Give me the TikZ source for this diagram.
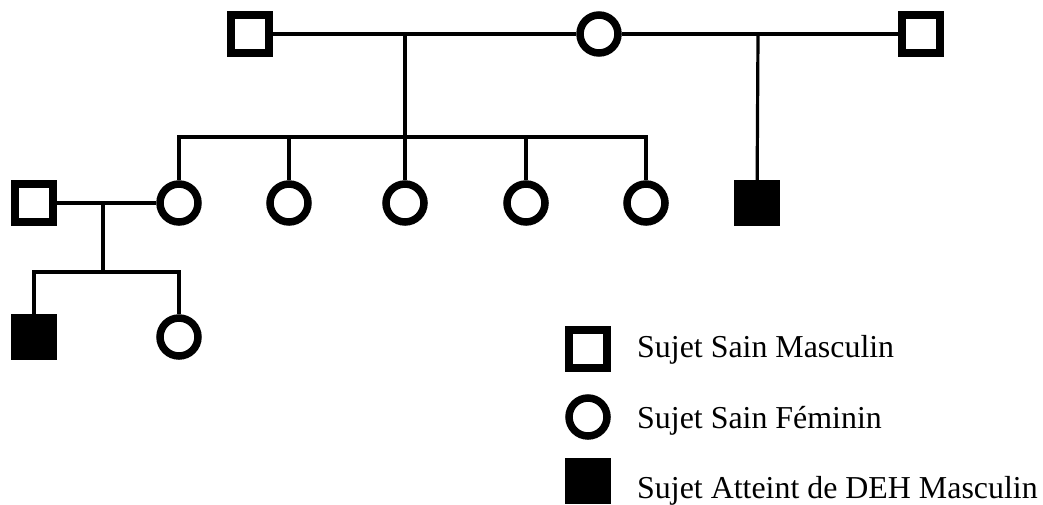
\documentclass[tikz,border=0pt]{standalone}
\usepackage{fontspec}
\setmainfont{Liberation Serif}
\begin{document}
\begin{tikzpicture}[x=1pt,y=-1pt,
  male/.style={draw,rectangle,line width=7.5pt,minimum size=38pt,inner sep=0pt,fill=white},
  female/.style={draw,circle,line width=7.5pt,minimum size=38pt,inner sep=0pt,fill=white},
  affected/.style={draw,rectangle,line width=7.5pt,minimum size=38pt,inner sep=0pt,fill=black},
  link/.style={line width=3.2pt},
  lab/.style={anchor=base west,inner sep=0pt,font=\fontsize{31.9}{36}\selectfont}]
\useasboundingbox (0,0) rectangle (1043,504);
% generation I
\node[male] (g1m) at (250,34) {};
\node[female] (g1f) at (599,34) {};
\node[male] (g1m2) at (921,34) {};
% generation II
\node[female] (d1) at (179,203) {};
\node[female] (d2) at (289,203) {};
\node[female] (d3) at (405,203) {};
\node[female] (d4) at (526,203) {};
\node[female] (d5) at (646,203) {};
\node[affected] (a1) at (757,203) {};
\node[male] (h1) at (34,203) {};
% generation III
\node[affected] (a2) at (34,337) {};
\node[female] (f3) at (179,337) {};
% coordinates
\coordinate (m1) at (405,35);
\coordinate (s1) at (405,137);
\coordinate (m2) at (758,35);
\coordinate (m3) at (103,203);
\coordinate (s3) at (103,272);
% connectors
\draw[link] (g1m) -- (g1f);
\draw[link] (g1f) -- (g1m2);
\draw[link] (m1) -- (s1);
\draw[link] (d1.north) |- (s1) -| (d5.north);
\draw[link] (d2.north) -- (d2.north |- s1);
\draw[link] (d3.north) -- (d3.north |- s1);
\draw[link] (d4.north) -- (d4.north |- s1);
\draw[link] (m2) -- (a1);
\draw[link] (h1) -- (d1);
\draw[link] (m3) -- (s3);
\draw[link] (a2.north) |- (s3) -| (f3.north);
% legend
\node[male] (l1) at (588,349) {};
\node[female] (l2) at (588,417) {};
\node[affected] (l3) at (588,481) {};
\node[lab] (t1) at (637,357) {Sujet Sain Masculin};
\node[lab] (t2) at (637,428) {Sujet Sain Féminin};
\node[lab] (t3) at (637,498) {Sujet Atteint de DEH Masculin};
\end{tikzpicture}
\end{document}
